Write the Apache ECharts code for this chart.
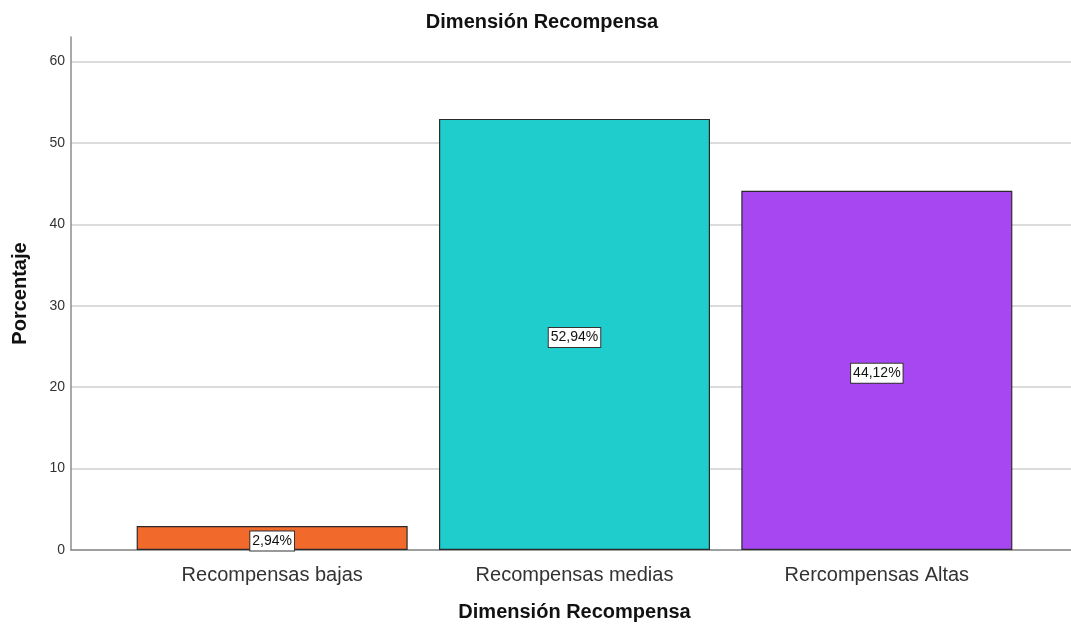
<!DOCTYPE html>
<html>
<head>
<meta charset="utf-8">
<style>
  html, body { margin: 0; padding: 0; background: #ffffff; }
  #chart { width: 1071px; height: 624px; }
</style>
<script src="https://cdn.jsdelivr.net/npm/echarts@6/dist/echarts.min.js"></script>
</head>
<body>
<div id="chart"></div>
<script>
// Reward dimension distribution (percent of respondents)
const categories = ['Recompensas bajas', 'Recompensas medias', 'Rercompensas Altas'];
const percentages = [2.94, 52.94, 44.12];
const barColors = ['#F2692C', '#1ECDCC', '#A747F1'];
const yTicks = [0, 10, 20, 30, 40, 50, 60];

const FONT = '"Liberation Sans", Arial, sans-serif';
const axisMax = 63;                // axis line runs a little above the last tick
const tickMax = yTicks[yTicks.length - 1];

// plot geometry (px)
const plotTop = 37, plotBottom = 74, plotHeight = 624 - plotTop - plotBottom;
const gridTop = plotTop + plotHeight * (1 - tickMax / axisMax);

const chart = echarts.init(document.getElementById('chart'), null, { renderer: 'canvas' });

chart.setOption({
  backgroundColor: '#ffffff',
  animation: false,
  title: {
    text: 'Dimensión Recompensa',
    left: 537,
    textAlign: 'center',
    top: 7,
    textStyle: { fontFamily: FONT, fontSize: 20, fontWeight: 'bold', color: '#111' }
  },
  grid: [
    // frame: axis lines and tick labels
    { left: 71, right: 0, top: plotTop, bottom: plotBottom, outerBoundsMode: 'none' },
    // bars: categories sit inside the frame
    { left: 121, right: 43, top: plotTop, bottom: plotBottom, outerBoundsMode: 'none' },
    // horizontal gridlines at the tick values only
    { left: 71, right: 0, top: gridTop, bottom: plotBottom, outerBoundsMode: 'none' }
  ],
  xAxis: [
    {
      gridIndex: 0, type: 'value', min: 0, max: 1,
      axisLine: { show: true, onZero: false, lineStyle: { color: '#8c8c8c', width: 1.5 } },
      axisTick: { show: false }, axisLabel: { show: false }, splitLine: { show: false }
    },
    {
      gridIndex: 1, type: 'category', data: categories,
      axisLine: { show: false }, axisTick: { show: false },
      axisLabel: { fontFamily: FONT, fontSize: 20, color: '#333', margin: 15 },
      name: 'Dimensión Recompensa', nameLocation: 'middle', nameGap: 52,
      nameTextStyle: { fontFamily: FONT, fontSize: 20, fontWeight: 'bold', color: '#111' }
    },
    {
      gridIndex: 2, type: 'value', min: 0, max: 1, show: false
    }
  ],
  yAxis: [
    {
      gridIndex: 0, type: 'value', min: 0, max: axisMax, interval: 10,
      axisLine: { show: true, lineStyle: { color: '#8c8c8c', width: 1.5 } },
      axisTick: { show: false },
      axisLabel: {
        fontFamily: FONT, fontSize: 14, color: '#333', margin: 6,
        formatter: v => (yTicks.indexOf(v) >= 0 ? String(v) : '')
      },
      splitLine: { show: false },
      name: 'Porcentaje', nameLocation: 'middle', nameGap: 41, nameRotate: 90,
      nameTextStyle: { fontFamily: FONT, fontSize: 20, fontWeight: 'bold', color: '#111' }
    },
    {
      gridIndex: 1, type: 'value', min: 0, max: axisMax, interval: 10,
      axisLine: { show: false }, axisTick: { show: false },
      axisLabel: { show: false }, splitLine: { show: false }
    },
    {
      gridIndex: 2, type: 'value', min: 0, max: tickMax, interval: 10,
      axisLine: { show: false }, axisTick: { show: false }, axisLabel: { show: false },
      splitLine: { show: true, lineStyle: { color: '#cfcfcf', width: 1.5 } }
    }
  ],
  series: [
    {
      type: 'bar',
      xAxisIndex: 1, yAxisIndex: 1,
      barWidth: 271,
      z: 3,
      data: percentages.map((v, i) => ({
        value: v,
        itemStyle: { color: barColors[i], borderColor: '#2b2b2b', borderWidth: 1.2 }
      })),
      label: {
        show: true,
        position: 'inside',
        offset: [0, 3],
        formatter: p => p.value.toFixed(2).replace('.', ',') + '%',
        fontFamily: FONT, fontSize: 14, color: '#111',
        backgroundColor: '#ffffff',
        borderColor: '#333333', borderWidth: 1,
        padding: [3, 2, 2, 2]
      }
    }
  ]
});
</script>
</body>
</html>
